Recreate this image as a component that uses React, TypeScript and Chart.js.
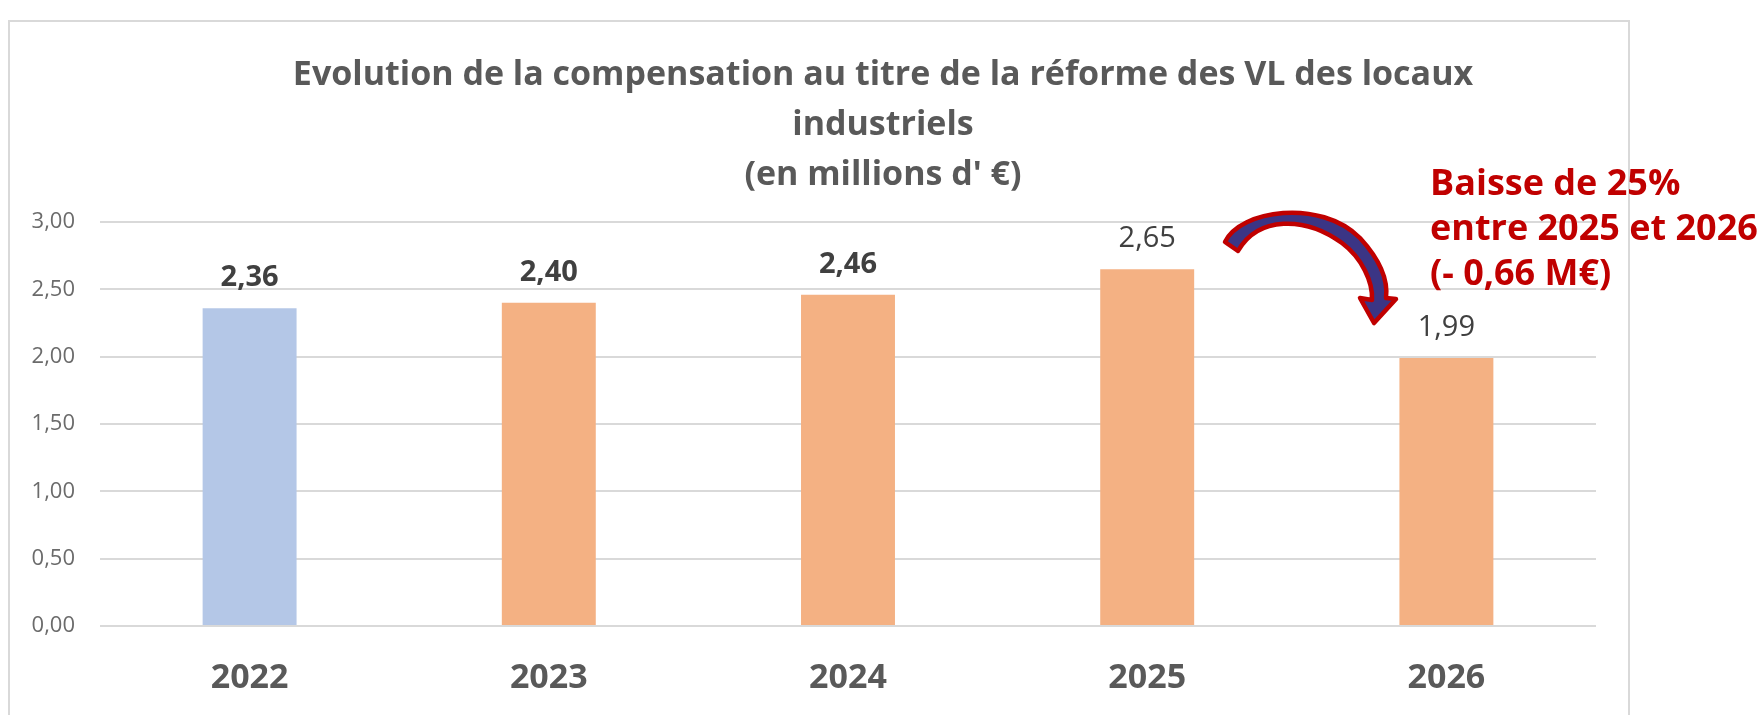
import React, { useEffect, useRef } from "react";
import { Chart, registerables } from "chart.js";

Chart.register(...registerables);

const categories = ["2022", "2023", "2024", "2025", "2026"];
const values = [2.36, 2.4, 2.46, 2.65, 1.99];
const titleLines = [
  "Evolution de la compensation au titre de la réforme des VL des locaux",
  "industriels",
  "(en millions d' €)",
];
const noteLines = ["Baisse de 25%", "entre 2025 et 2026", "(- 0,66 M€)"];
const labelWeights = ["bold", "bold", "bold", "normal", "normal"];

const W = 1763;
const H = 715;
const FONT = "'Open Sans', 'Noto Sans', sans-serif";

const fmt = (v: number) => v.toFixed(2).replace(".", ",");

const decorPlugin = {
  id: "decor",
  beforeDraw(chart: any) {
    const ctx = chart.ctx;
    ctx.save();
    ctx.fillStyle = "#ffffff";
    ctx.fillRect(0, 0, W, H);
    ctx.strokeStyle = "#d9d9d9";
    ctx.lineWidth = 2;
    ctx.beginPath();
    ctx.moveTo(9, H + 10);
    ctx.lineTo(9, 21);
    ctx.lineTo(1629, 21);
    ctx.lineTo(1629, H + 10);
    ctx.stroke();
    ctx.restore();
  },
  afterDraw(chart: any) {
    const ctx = chart.ctx;
    ctx.save();
    // title
    ctx.fillStyle = "#595959";
    ctx.font = `bold 34px ${FONT}`;
    ctx.textAlign = "center";
    ctx.textBaseline = "alphabetic";
    titleLines.forEach((t, i) => ctx.fillText(t, 883, 85 + i * 50));

    // value labels
    const meta = chart.getDatasetMeta(0);
    ctx.fillStyle = "#404040";
    meta.data.forEach((bar: any, i: number) => {
      ctx.font = `${labelWeights[i]} 29px ${FONT}`;
      ctx.fillText(fmt(values[i]), bar.x, bar.y - 22);
    });

    // annotation text
    ctx.fillStyle = "#C00000";
    ctx.font = `bold 36px ${FONT}`;
    ctx.textAlign = "left";
    noteLines.forEach((t, i) => ctx.fillText(t, 1430, 195 + i * 45));

    // curved arrow
    ctx.beginPath();
    ctx.moveTo(1225, 242);
    ctx.bezierCurveTo(1240, 210, 1320, 198, 1360, 238);
    ctx.bezierCurveTo(1382, 262, 1388, 282, 1386, 298);
    ctx.lineTo(1396, 299);
    ctx.lineTo(1374, 323);
    ctx.lineTo(1360, 298);
    ctx.lineTo(1372, 300);
    ctx.bezierCurveTo(1373, 282, 1362, 258, 1342, 243);
    ctx.bezierCurveTo(1305, 216, 1258, 216, 1238, 251);
    ctx.closePath();
    ctx.fillStyle = "#3B3585";
    ctx.fill();
    ctx.strokeStyle = "#C00000";
    ctx.lineWidth = 4.5;
    ctx.lineJoin = "round";
    ctx.stroke();
    ctx.restore();
  },
};

export default function App() {
  const ref = useRef<HTMLCanvasElement | null>(null);
  useEffect(() => {
    if (!ref.current) return;
    const chart = new Chart(ref.current, {
      type: "bar",
      data: {
        labels: categories,
        datasets: [
          {
            data: values,
            backgroundColor: ["#B4C7E7", "#F4B183", "#F4B183", "#F4B183", "#F4B183"],
            borderWidth: 0,
            categoryPercentage: 1,
            barPercentage: 0.314,
          },
        ],
      },
      options: {
        animation: false,
        responsive: false,
        devicePixelRatio: 1,
        layout: { padding: { left: 0, top: 222, right: 167, bottom: 0 } },
        plugins: {
          legend: { display: false },
          title: { display: false },
          tooltip: { enabled: false },
        },
        scales: {
          x: {
            grid: { display: false, drawTicks: false, tickLength: 0 },
            border: { display: false },
            ticks: {
              color: "#595959",
              font: { family: FONT, size: 34, weight: "bold" },
              padding: 32,
              maxRotation: 0,
            },
            afterFit: (s: any) => {
              s.height = 89;
            },
          },
          y: {
            min: 0,
            max: 3,
            grid: { color: "#d9d9d9", lineWidth: 2, drawTicks: false, tickLength: 0 },
            border: { display: false },
            ticks: {
              stepSize: 0.5,
              color: "#6b6b6b",
              font: { family: FONT, size: 22 },
              padding: 25,
              callback: (v: any) => fmt(Number(v)),
            },
            afterFit: (s: any) => {
              s.width = 100;
            },
          },
        },
      },
      plugins: [decorPlugin],
    });
    return () => chart.destroy();
  }, []);
  return (
    <div style={{ position: "absolute", left: 0, top: 0, width: W, height: H }}>
      <canvas ref={ref} width={W} height={H} style={{ width: W, height: H, display: "block" }} />
    </div>
  );
}
